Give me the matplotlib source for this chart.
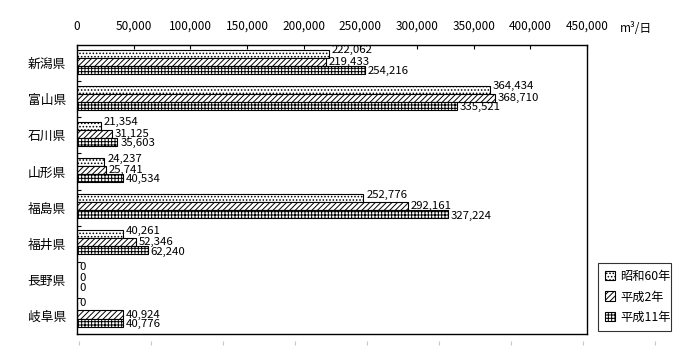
import matplotlib
matplotlib.use("Agg")
import matplotlib.pyplot as plt
import numpy as np

plt.rcParams['font.family'] = ['Noto Sans CJK JP', 'DejaVu Sans']
plt.rcParams['hatch.linewidth'] = 0.7

categories = ["新潟県", "富山県", "石川県", "山形県", "福島県", "福井県", "長野県", "岐阜県"]
series_names = ["昭和60年", "平成2年", "平成11年"]
s60 = [222062, 364434, 21354, 24237, 252776, 40261, 0, 0]
h2 = [219433, 368710, 31125, 25741, 292161, 52346, 0, 40924]
h11 = [254216, 335521, 35603, 40534, 327224, 62240, 0, 40776]
xticks = [0, 50000, 100000, 150000, 200000, 250000, 300000, 350000, 400000, 450000]

series = [s60, h2, h11]
hatches = ['.....', '//////', '+++++']
label_dy = [2.5, 0, -1]

fig = plt.figure(figsize=(7, 3.6), dpi=100)
ax = fig.add_axes([77/700, 1-334/360, 510/700, 289/360])

n = len(categories)
y = np.arange(n)
bh = 0.222
for k, (vals, hat) in enumerate(zip(series, hatches)):
    pos = y + (k - 1) * bh - 0.04
    ax.barh(pos, vals, height=bh, color='white', edgecolor='black',
            hatch=hat, linewidth=0.8, label=series_names[k])
    for p, v in zip(pos, vals):
        ax.annotate(f"{v:,}", (v, p), xytext=(2, label_dy[k]),
                    textcoords='offset points', va='center', ha='left',
                    fontsize=8.2)

ax.set_xlim(0, 450000)
ax.set_ylim(n - 0.5, -0.5)
ax.xaxis.tick_top()
ax.set_xticks(xticks)
ax.set_xticklabels([f"{t:,}" for t in xticks], fontsize=8.5)
ax.tick_params(axis='x', direction='in', length=3, pad=11, width=0.8)
for lab in ax.get_xticklabels():
    lab.set_verticalalignment('baseline')
ax.set_yticks(y)
ax.set_yticklabels(categories, fontsize=9.2)
ax.tick_params(axis='y', which='major', length=0, pad=8)
ax.set_yticks(np.arange(n - 1) + 0.5, minor=True)
ax.tick_params(axis='y', which='minor', direction='in', length=3, width=0.8)
for s in ax.spines.values():
    s.set_linewidth(1.0)

fig.text(620/700, 1-28/360, "m³/日", fontsize=8.5, va='center', ha='left')

leg = ax.legend(loc='lower left', bbox_to_anchor=(598/700, 1-331/360, 73/700, 71/360),
                bbox_transform=fig.transFigure, mode='expand', fontsize=8.8,
                frameon=True, fancybox=False, handlelength=0.8, handleheight=0.8,
                handletextpad=0.4, borderaxespad=0, labelspacing=0.6,
                borderpad=0.6)
leg.get_frame().set_edgecolor('black')
leg.get_frame().set_linewidth(0.8)

# faint secondary tick row below the plot
ax2 = fig.add_axes([79/700, 1-341/360, 576/700, 0.001])
ax2.set_xlim(0, 8)
ax2.set_xticks(np.arange(9))
ax2.set_xticklabels([])
ax2.set_yticks([])
for s in ax2.spines.values():
    s.set_visible(False)
ax2.tick_params(axis='x', direction='out', length=3, color='#c8c8c8', width=0.8)
ax2.patch.set_visible(False)

fig.savefig("out.png", dpi=100)
